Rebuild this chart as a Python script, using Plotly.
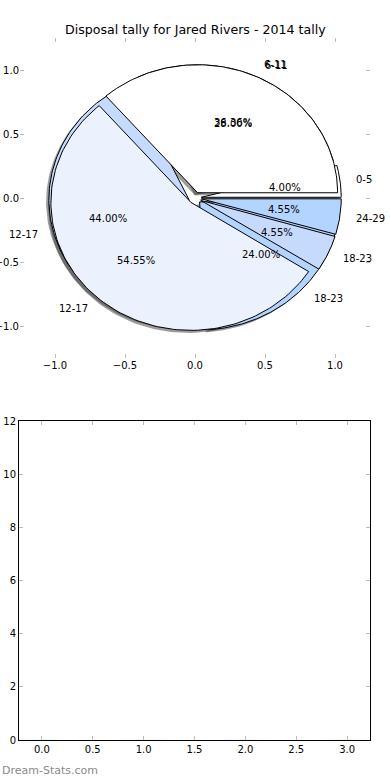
import numpy as np
import plotly.graph_objects as go

# ---------------- data ----------------
title = "Disposal tally for Jared Rivers - 2014 tally"
labels_a = ["0-5", "6-11", "12-17", "18-23"]      # first (underlying) pie
values_a = [1, 7, 11, 6]
labels_b = ["6-11", "12-17", "18-23", "24-29"]    # second (top) pie
values_b = [8, 12, 1, 1]
pie_tick_vals = [-1.0, -0.5, 0.0, 0.5, 1.0]
bar_x_ticks = [0.0, 0.5, 1.0, 1.5, 2.0, 2.5, 3.0]
bar_y_ticks = [0, 2, 4, 6, 8, 10, 12]

# ---------------- style ----------------
slice_colors = ["#ffffff", "#ebf2fe", "#c6dafd", "#b3d4ff"]
explode_a = 0.045
explode_b = 0.045
FONT = "DejaVu Sans"

fig = go.Figure()


def wedges(values, explode):
    v = np.asarray(values, float)
    frac = v / v.sum()
    edges = np.concatenate([[0.0], np.cumsum(frac)]) * 360.0
    out = []
    for i in range(len(v)):
        t1, t2 = edges[i], edges[i + 1]
        mid = np.deg2rad((t1 + t2) / 2)
        cx, cy = explode * np.cos(mid), explode * np.sin(mid)
        th = np.deg2rad(np.linspace(t1, t2, 120))
        xs = np.concatenate([[cx], cx + np.cos(th), [cx]])
        ys = np.concatenate([[cy], cy + np.sin(th), [cy]])
        out.append(dict(xs=xs, ys=ys, cx=cx, cy=cy, mid=mid, pct=frac[i] * 100))
    return out


wa = wedges(values_a, explode_a)
wb = wedges(values_b, explode_b)

# shadows (drawn below everything)
for w in wa + wb:
    fig.add_trace(go.Scatter(x=w["xs"] - 0.02, y=w["ys"] - 0.02, fill="toself",
                             fillcolor="rgba(60,60,60,0.5)", line=dict(width=0),
                             mode="lines", hoverinfo="skip", showlegend=False,
                             xaxis="x", yaxis="y"))

for ws in (wa, wb):
    for i, w in enumerate(ws):
        fig.add_trace(go.Scatter(x=w["xs"], y=w["ys"], fill="toself",
                                 fillcolor=slice_colors[i],
                                 line=dict(color="black", width=1),
                                 mode="lines", hoverinfo="skip", showlegend=False,
                                 xaxis="x", yaxis="y"))

annotations = []
for ws, labs in ((wa, labels_a), (wb, labels_b)):
    for w, lab in zip(ws, labs):
        lx = w["cx"] + 1.1 * np.cos(w["mid"])
        ly = w["cy"] + 1.1 * np.sin(w["mid"])
        annotations.append(dict(x=lx, y=ly, xref="x", yref="y", text=lab,
                                showarrow=False, xanchor="left" if lx > 0 else "right",
                                yanchor="middle", font=dict(family=FONT, size=10, color="black")))
        px = w["cx"] + 0.6 * np.cos(w["mid"])
        py = w["cy"] + 0.6 * np.sin(w["mid"])
        annotations.append(dict(x=px, y=py, xref="x", yref="y", text="%.2f%%" % w["pct"],
                                showarrow=False, xanchor="center", yanchor="middle",
                                font=dict(family=FONT, size=10, color="black")))

annotations.append(dict(x=0.5, y=1 - 30 / 780, xref="paper", yref="paper", text=title,
                        showarrow=False, xanchor="center", yanchor="middle",
                        font=dict(family=FONT, size=12.6, color="black")))
annotations.append(dict(x=0.0, y=1 - 770 / 780, xref="paper", yref="paper",
                        text="Dream-Stats.com", showarrow=False, xanchor="left",
                        yanchor="middle", font=dict(family=FONT, size=11, color="#8a8a8a")))

# empty bar chart (no visible bars)
fig.add_trace(go.Bar(x=[0, 1, 2, 3], y=[0, 0, 0, 0], width=0.45, marker_color="#b3d4ff",
                     showlegend=False, hoverinfo="skip", xaxis="x2", yaxis="y2"))

tick_common = dict(ticks="inside", ticklen=4, tickwidth=1, tickcolor="#bbbbbb",
                   showgrid=False, zeroline=False, automargin=False,
                   tickfont=dict(family=FONT, size=10, color="black"))

fig.update_layout(
    width=390, height=780, margin=dict(l=0, r=0, t=0, b=0, autoexpand=False),
    paper_bgcolor="white", plot_bgcolor="white",
    annotations=annotations,
    xaxis=dict(domain=[20 / 390, 370 / 390], range=[-1.25, 1.25], tickvals=pie_tick_vals,
               tickformat=".1f", showline=False, mirror="ticks", anchor="y", **tick_common),
    yaxis=dict(domain=[1 - 358 / 780, 1 - 38 / 780], range=[-1.25, 1.25], tickvals=pie_tick_vals,
               tickformat=".1f", showline=False, mirror="ticks", anchor="x", **tick_common),
    xaxis2=dict(domain=[19 / 390, 370 / 390], range=[-0.225, 3.225], tickvals=bar_x_ticks,
                tickformat=".1f", showline=True, linecolor="black", linewidth=1,
                mirror="ticks", anchor="y2", **tick_common),
    yaxis2=dict(domain=[1 - 740 / 780, 1 - 421 / 780], range=[0, 12], tickvals=bar_y_ticks,
                showline=True, linecolor="black", linewidth=1,
                mirror="ticks", anchor="x2", **tick_common),
)

fig.write_html("out.html", config={"displayModeBar": False},
               post_script="document.body.style.margin='0';document.body.style.overflow='hidden';")
